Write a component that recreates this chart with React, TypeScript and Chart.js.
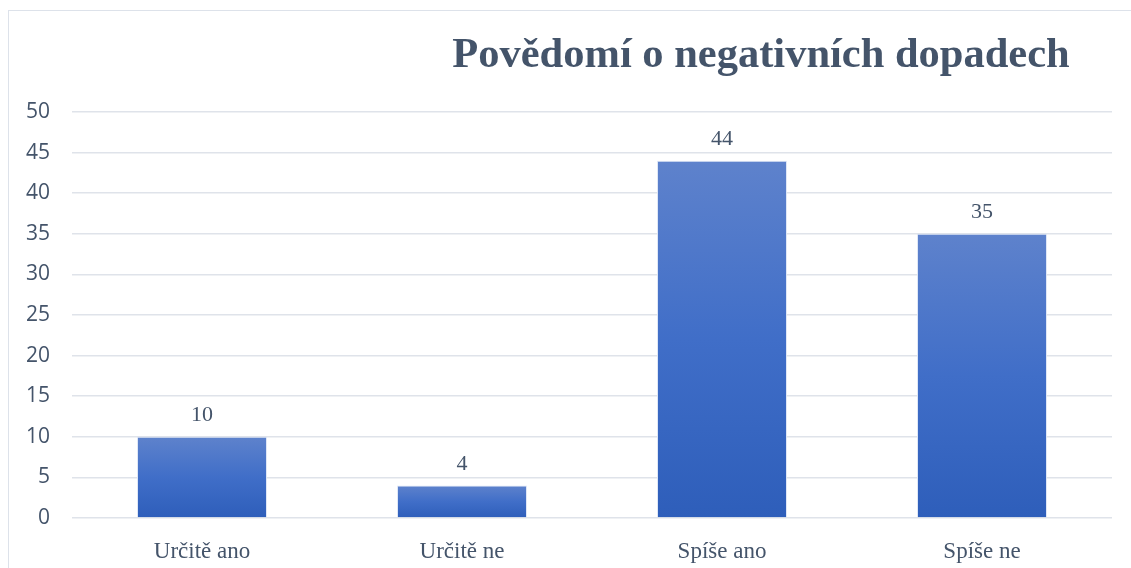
import React, { useEffect, useRef } from "react";
import { Chart, registerables } from "chart.js";

Chart.register(...registerables);

const categories = ["Určitě ano", "Určitě ne", "Spíše ano", "Spíše ne"];
const values = [10, 4, 44, 35];
const yTicks = [0, 5, 10, 15, 20, 25, 30, 35, 40, 45, 50];
const titleText = "Povědomí o negativních dopadech";

const TEXT = "#44546A";

export default function App() {
  const ref = useRef<HTMLCanvasElement | null>(null);

  useEffect(() => {
    document.documentElement.style.overflow = "hidden";
    const canvas = ref.current!;
    const titlePlugin = {
      id: "customTitle",
      afterDraw(chart: any) {
        const ctx = chart.ctx;
        ctx.save();
        ctx.font = "bold 42.5px 'Liberation Serif', 'Times New Roman', serif";
        ctx.fillStyle = TEXT;
        ctx.textAlign = "center";
        ctx.textBaseline = "alphabetic";
        ctx.fillText(titleText, 761, 67);
        ctx.restore();
      },
    };
    const labelPlugin = {
      id: "valueLabels",
      afterDatasetsDraw(chart: any) {
        const ctx = chart.ctx;
        const meta = chart.getDatasetMeta(0);
        ctx.save();
        ctx.font = "22px 'Liberation Serif', 'Times New Roman', serif";
        ctx.fillStyle = TEXT;
        ctx.textAlign = "center";
        ctx.textBaseline = "alphabetic";
        meta.data.forEach((bar: any, i: number) => {
          ctx.fillText(String(values[i]), bar.x, bar.y - 16);
        });
        ctx.restore();
      },
    };
    const chart = new Chart(canvas, {
      type: "bar",
      data: {
        labels: categories,
        datasets: [
          {
            data: values,
            backgroundColor: (c: any) => {
              const ch = c.chart;
              const ys = ch.scales && ch.scales.y;
              if (!ch.chartArea || !ys || c.raw === undefined) return "#4472C4";
              const top = ys.getPixelForValue(c.raw);
              const bottom = ys.getPixelForValue(0);
              if (!isFinite(top) || !isFinite(bottom) || top === bottom) return "#4472C4";
              const g = ch.ctx.createLinearGradient(0, top, 0, bottom);
              g.addColorStop(0, "rgb(94,130,204)");
              g.addColorStop(0.5, "rgb(64,110,200)");
              g.addColorStop(1, "rgb(46,94,186)");
              return g;
            },
            borderColor: "rgba(220,228,245,0.9)",
            borderWidth: 1,
            barPercentage: 0.5,
            categoryPercentage: 1,
          },
        ],
      },
      options: {
        animation: false,
        responsive: false,
        maintainAspectRatio: false,
        layout: { padding: { left: 22, right: 19, top: 112, bottom: 0 } },
        plugins: {
          legend: { display: false },
          title: { display: false },
          tooltip: { enabled: false },
        },
        scales: {
          x: {
            grid: { display: false },
            border: { display: false },
            ticks: {
              color: TEXT,
              font: { family: "'Liberation Serif', 'Times New Roman', serif", size: 23 },
              padding: 12,
            },
            afterFit: (s: any) => {
              s.height = 50;
            },
          },
          y: {
            min: 0,
            max: 50,
            afterBuildTicks: (s: any) => {
              s.ticks = yTicks.map((v) => ({ value: v }));
            },
            grid: { color: "#DFE3EA", lineWidth: 1.5, drawTicks: false },
            border: { display: false },
            ticks: {
              color: TEXT,
              font: { family: "'Open Sans', sans-serif", size: 21 },
              padding: 22,
            },
            afterFit: (s: any) => {
              s.width = 50;
            },
          },
        },
      },
      plugins: [titlePlugin, labelPlugin],
    } as any);
    return () => chart.destroy();
  }, []);

  return (
    <div>
      <div
        style={{
          position: "fixed",
          left: 8,
          top: 10,
          width: 1200,
          height: 700,
          border: "1.5px solid #DDE2EA",
          boxSizing: "border-box",
        }}
      />
      <canvas
        ref={ref}
        width={1131}
        height={568}
        style={{ position: "fixed", left: 0, top: 0, width: 1131, height: 568 }}
      />
    </div>
  );
}
